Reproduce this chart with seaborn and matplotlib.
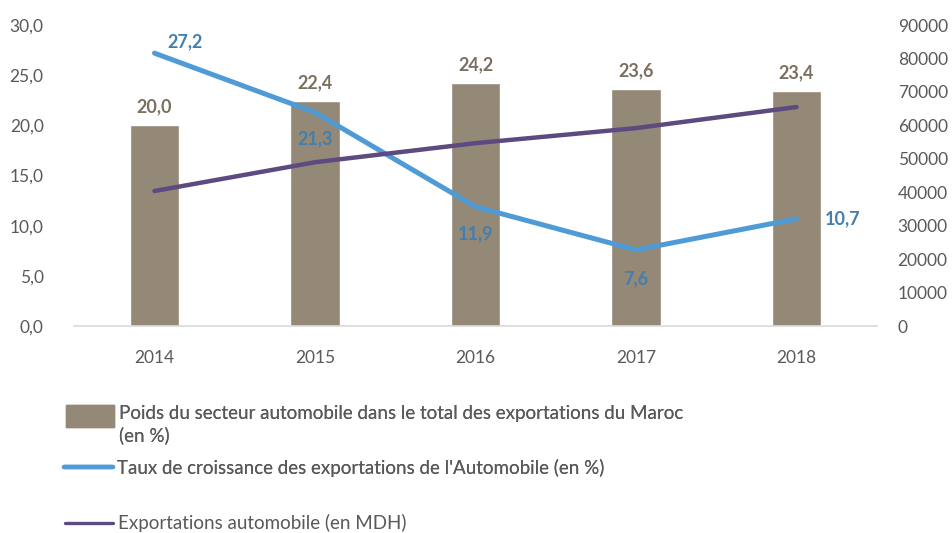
import numpy as np
import pandas as pd
import matplotlib
matplotlib.use('Agg')
import matplotlib.pyplot as plt
import seaborn as sns
from matplotlib.patches import Patch, Rectangle
from matplotlib.lines import Line2D
from matplotlib.legend_handler import HandlerPatch

# --- données ---
annees = ['2014', '2015', '2016', '2017', '2018']
poids = [20.0, 22.4, 24.2, 23.6, 23.4]           # % des exportations
croissance = [27.2, 21.3, 11.9, 7.6, 10.7]       # taux de croissance %
exportations = [40400, 49000, 54700, 59200, 65500]  # MDH

lbl_poids = 'Poids du secteur automobile dans le total des exportations du Maroc\n(en %)'
lbl_croiss = "Taux de croissance des exportations de l'Automobile (en %)"
lbl_export = 'Exportations automobile (en MDH)'

df = pd.DataFrame({'annee': annees, 'poids': poids,
                   'croissance': croissance, 'export': exportations})

c_bar = '#948877'
c_blue = '#4f9bd6'
c_purple = '#5d4a80'
c_txt = '#595959'

sns.set_style('white')
plt.rcParams['font.family'] = ['Lato', 'DejaVu Sans']

fig = plt.figure(figsize=(9.52, 5.33), dpi=100)
ax = fig.add_axes([0.078, 0.388, 0.843, 0.565])
ax2 = ax.twinx()

sns.barplot(data=df, x='annee', y='poids', color=c_bar, width=0.31,
            saturation=1, ax=ax, zorder=1)
sns.lineplot(data=df, x='annee', y='croissance', color=c_blue, lw=3.6,
             ax=ax, zorder=3)
sns.lineplot(data=df, x='annee', y='export', color=c_purple, lw=3.2,
             ax=ax2, zorder=3)

ax.set_ylim(0, 30)
ax.set_xlim(-0.5, 4.5)
ax2.set_ylim(0, 90000)
ax.set_yticks(np.arange(0, 31, 5))
ax.set_yticklabels([f'{v:.1f}'.replace('.', ',') for v in np.arange(0, 31, 5)])
ax2.set_yticks(np.arange(0, 90001, 10000))
ax.set_xlabel('')
ax.set_ylabel('')
ax2.set_ylabel('')

for a in (ax, ax2):
    for s in ['top', 'left', 'right', 'bottom']:
        a.spines[s].set_visible(False)
    a.tick_params(length=0, labelsize=12.5, labelcolor=c_txt)
ax.spines['bottom'].set_visible(True)
ax.spines['bottom'].set_color('#d9d9d9')
ax.spines['bottom'].set_linewidth(1.2)
ax.tick_params(axis='x', pad=17)
ax.tick_params(axis='y', pad=22)
ax2.tick_params(axis='y', pad=15)

# étiquettes des barres
for i, v in enumerate(poids):
    ax.annotate(f'{v:.1f}'.replace('.', ','), (i, v), xytext=(0, 7),
                textcoords='offset points', ha='center', va='bottom',
                fontsize=13, fontweight='bold', color='#7b6f61')

# étiquettes du taux de croissance
offs = [(22, 2, 'center', 'bottom'), (0, -13, 'center', 'top'),
        (0, -13, 'center', 'top'), (0, -15, 'center', 'top'),
        (20, 0, 'left', 'center')]
for i, (v, (dx, dy, ha, va)) in enumerate(zip(croissance, offs)):
    ax.annotate(f'{v:.1f}'.replace('.', ','), (i, v), xytext=(dx, dy),
                textcoords='offset points', ha=ha, va=va,
                fontsize=13, fontweight='bold', color='#437fae')


# carré de légende aligné sur la première ligne du libellé
def carre_haut(legend, orig_handle, xdescent, ydescent, width, height, fontsize):
    return Rectangle((-xdescent, -ydescent + 7), width, height)


leg_kw = dict(frameon=False, fontsize=13.5, labelcolor=c_txt,
              handlelength=2.6, handletextpad=0.22,
              borderaxespad=0, borderpad=0)
leg1 = fig.legend([Patch(facecolor=c_bar, edgecolor=c_bar)], [lbl_poids],
                  loc='upper left', bbox_to_anchor=(0.069, 0.240),
                  handleheight=1.45,
                  handler_map={Patch: HandlerPatch(patch_func=carre_haut)},
                  **leg_kw)
for t in leg1.get_texts():
    t.set_linespacing(1.3)
fig.add_artist(leg1)
leg2 = fig.legend([Line2D([0], [0], color=c_blue, lw=3.2)], [lbl_croiss],
                  loc='center left', bbox_to_anchor=(0.067, 0.122), **leg_kw)
fig.add_artist(leg2)
fig.legend([Line2D([0], [0], color=c_purple, lw=2.4)], [lbl_export],
           loc='center left', bbox_to_anchor=(0.068, 0.018), **leg_kw)

fig.savefig('out.png', dpi=100)
